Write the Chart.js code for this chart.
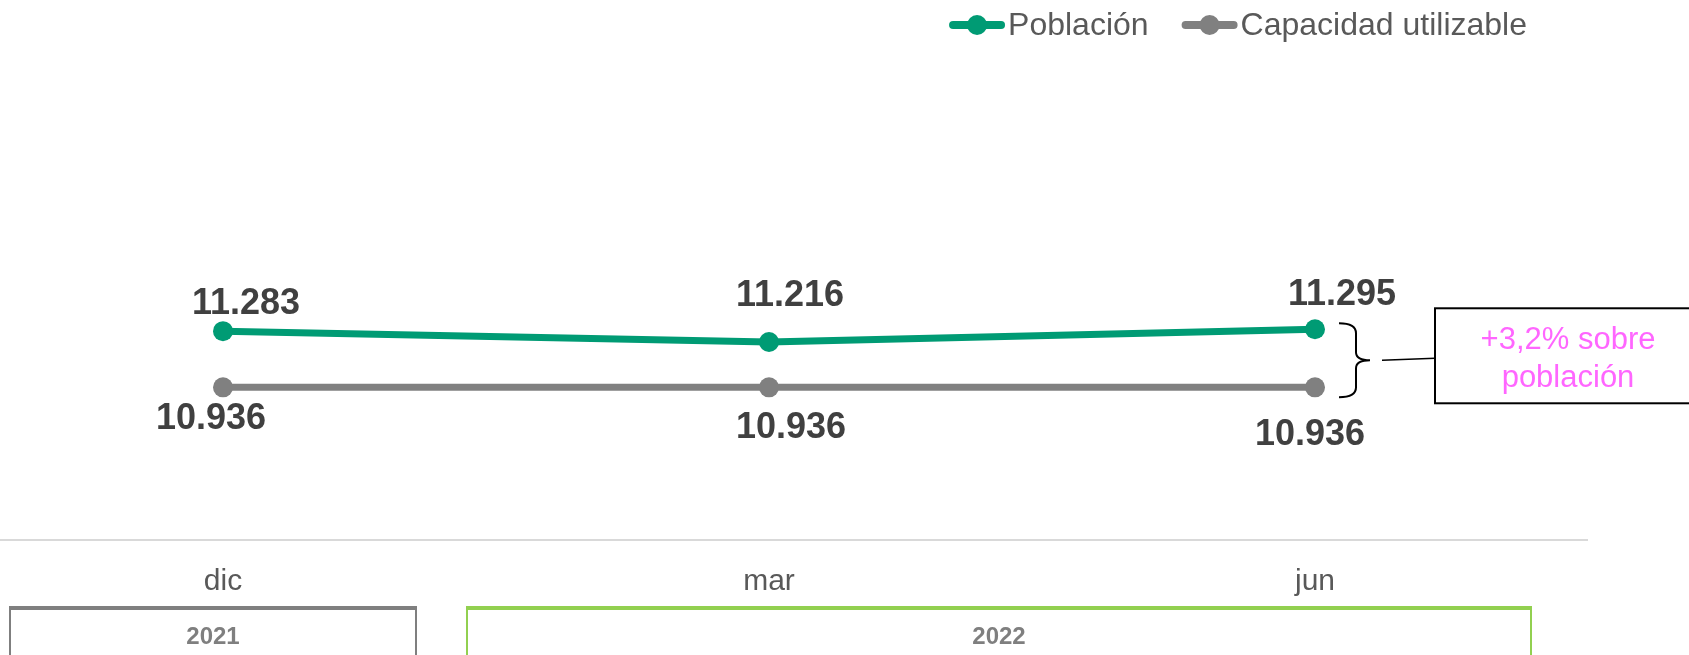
<!DOCTYPE html>
<html lang="es">
<head>
<meta charset="utf-8">
<title>Población y capacidad utilizable</title>
<script src="https://cdn.jsdelivr.net/npm/chart.js@4.4.1/dist/chart.umd.min.js"></script>
<style>
  html, body { margin: 0; padding: 0; background: #fff; }
</style>
</head>
<body>
<canvas id="chart" width="1689" height="655"></canvas>
<script>
// datos
const categories = ["dic", "mar", "jun"];
const poblacion = [11283, 11216, 11295];
const capacidad = [10936, 10936, 10936];
const seriesNames = ["Población", "Capacidad utilizable"];
const yearLabels = ["2021", "2022"];
const noteLines = ["+3,2% sobre", "población"];

const FONT = '"Liberation Sans", Arial, sans-serif';
const GREEN = "#009b74";
const GREY = "#808080";

// desplazamiento de cada etiqueta respecto a su punto (dx, dy)
const labelOffsets = [
    [[23, -27], [21, -46], [27, -34]],
    [[-12, 32], [22, 41], [-5, 48]]
];

function fmt(v) {
    return String(v).replace(/\B(?=(\d{3})+(?!\d))/g, ".");
}

// etiquetas de valores
const valueLabels = {
    id: "valueLabels",
    afterDatasetsDraw(chart) {
        const ctx = chart.ctx;
        ctx.save();
        ctx.font = "bold 36px " + FONT;
        ctx.fillStyle = "#404040";
        ctx.textAlign = "center";
        ctx.textBaseline = "middle";
        chart.data.datasets.forEach((ds, i) => {
            chart.getDatasetMeta(i).data.forEach((pt, j) => {
                const off = labelOffsets[i][j];
                ctx.fillText(fmt(ds.data[j]), pt.x + off[0], pt.y + off[1]);
            });
        });
        ctx.restore();
    }
};

// leyenda arriba a la derecha
const topLegend = {
    id: "topLegend",
    afterDraw(chart) {
        const ctx = chart.ctx;
        ctx.save();
        ctx.font = "32px " + FONT;
        const markW = 56, gap = 3, itemGap = 33, y = 25;
        const widths = chart.data.datasets.map(ds => ctx.measureText(ds.label).width);
        let total = 0;
        widths.forEach((w, i) => { total += markW + gap + w + (i ? itemGap : 0); });
        let x = 1527 - total;
        chart.data.datasets.forEach((ds, i) => {
            ctx.strokeStyle = ds.borderColor;
            ctx.lineWidth = 8;
            ctx.lineCap = "round";
            ctx.beginPath();
            ctx.moveTo(x + 4, y);
            ctx.lineTo(x + markW - 4, y);
            ctx.stroke();
            ctx.fillStyle = ds.borderColor;
            ctx.beginPath();
            ctx.arc(x + markW / 2, y, 10, 0, Math.PI * 2);
            ctx.fill();
            ctx.fillStyle = "#595959";
            ctx.textAlign = "left";
            ctx.textBaseline = "middle";
            ctx.fillText(ds.label, x + markW + gap, y + 1);
            x += markW + gap + widths[i] + itemGap;
        });
        ctx.restore();
    }
};

// línea separadora, cajas de años y nota
const extras = {
    id: "extras",
    afterDraw(chart) {
        const ctx = chart.ctx;
        const xs = chart.scales.x;
        const ys = chart.scales.y;
        const step = xs.getPixelForValue(1) - xs.getPixelForValue(0);
        ctx.save();

        // separador
        ctx.strokeStyle = "#d9d9d9";
        ctx.lineWidth = 2;
        ctx.beginPath();
        ctx.moveTo(0, chart.chartArea.bottom + 1);
        ctx.lineTo(xs.getPixelForValue(categories.length - 1) + step / 2, chart.chartArea.bottom + 1);
        ctx.stroke();

        // cajas de años
        const boxes = [
            { x0: 9, x1: 417, color: "#7f7f7f" },
            { x0: 466, x1: 1532, color: "#92d050" }
        ];
        const top = 606;
        boxes.forEach((b, i) => {
            ctx.fillStyle = b.color;
            ctx.fillRect(b.x0, top, b.x1 - b.x0, 4);
            ctx.fillRect(b.x0, top, 2, 60);
            ctx.fillRect(b.x1 - 2, top, 2, 60);
            ctx.fillStyle = "#7f7f7f";
            ctx.font = "bold 24px " + FONT;
            ctx.textAlign = "center";
            ctx.textBaseline = "middle";
            ctx.fillText(yearLabels[i], (b.x0 + b.x1) / 2, 637);
        });

        // llave y nota
        const last = categories.length - 1;
        const lx = xs.getPixelForValue(last);
        const yTop = ys.getPixelForValue(poblacion[last]) - 6;
        const yBot = ys.getPixelForValue(capacidad[last]) + 10;
        const yMid = (yTop + yBot) / 2;
        const bx = lx + 24, sx = lx + 41, tx = lx + 55;
        ctx.strokeStyle = "#000";
        ctx.lineWidth = 2;
        ctx.beginPath();
        ctx.moveTo(bx, yTop);
        ctx.quadraticCurveTo(sx, yTop, sx, yTop + 10);
        ctx.lineTo(sx, yMid - 8);
        ctx.quadraticCurveTo(sx, yMid, tx, yMid);
        ctx.quadraticCurveTo(sx, yMid, sx, yMid + 8);
        ctx.lineTo(sx, yBot - 10);
        ctx.quadraticCurveTo(sx, yBot, bx, yBot);
        ctx.stroke();

        ctx.lineWidth = 1.5;
        ctx.beginPath();
        ctx.moveTo(lx + 67, yMid);
        ctx.lineTo(lx + 120, yMid - 2);
        ctx.stroke();

        ctx.lineWidth = 2;
        ctx.strokeRect(lx + 120, yMid - 52, 300, 95);
        ctx.fillStyle = "#ff66ff";
        ctx.font = "31px " + FONT;
        ctx.textAlign = "center";
        ctx.textBaseline = "middle";
        ctx.fillText(noteLines[0], lx + 253, yMid - 20);
        ctx.fillText(noteLines[1], lx + 253, yMid + 18);

        ctx.restore();
    }
};

new Chart(document.getElementById("chart"), {
    type: "line",
    data: {
        labels: categories,
        datasets: [
            {
                label: seriesNames[0],
                data: poblacion,
                borderColor: GREEN,
                backgroundColor: GREEN,
                borderWidth: 7,
                pointRadius: 10,
                pointHoverRadius: 10,
                pointBorderWidth: 0,
                tension: 0
            },
            {
                label: seriesNames[1],
                data: capacidad,
                borderColor: GREY,
                backgroundColor: GREY,
                borderWidth: 7,
                pointRadius: 10,
                pointHoverRadius: 10,
                pointBorderWidth: 0,
                tension: 0
            }
        ]
    },
    options: {
        responsive: false,
        animation: false,
        layout: {
            padding: { left: 223, right: 374, top: 215, bottom: 30 }
        },
        plugins: {
            legend: { display: false },
            tooltip: { enabled: false }
        },
        scales: {
            x: {
                offset: false,
                grid: { display: false, drawTicks: false },
                border: { display: false },
                ticks: {
                    color: "#595959",
                    font: { family: FONT, size: 30 },
                    padding: 25
                }
            },
            y: {
                display: false,
                min: 10000,
                max: 12000
            }
        }
    },
    plugins: [valueLabels, topLegend, extras]
});
</script>
</body>
</html>
